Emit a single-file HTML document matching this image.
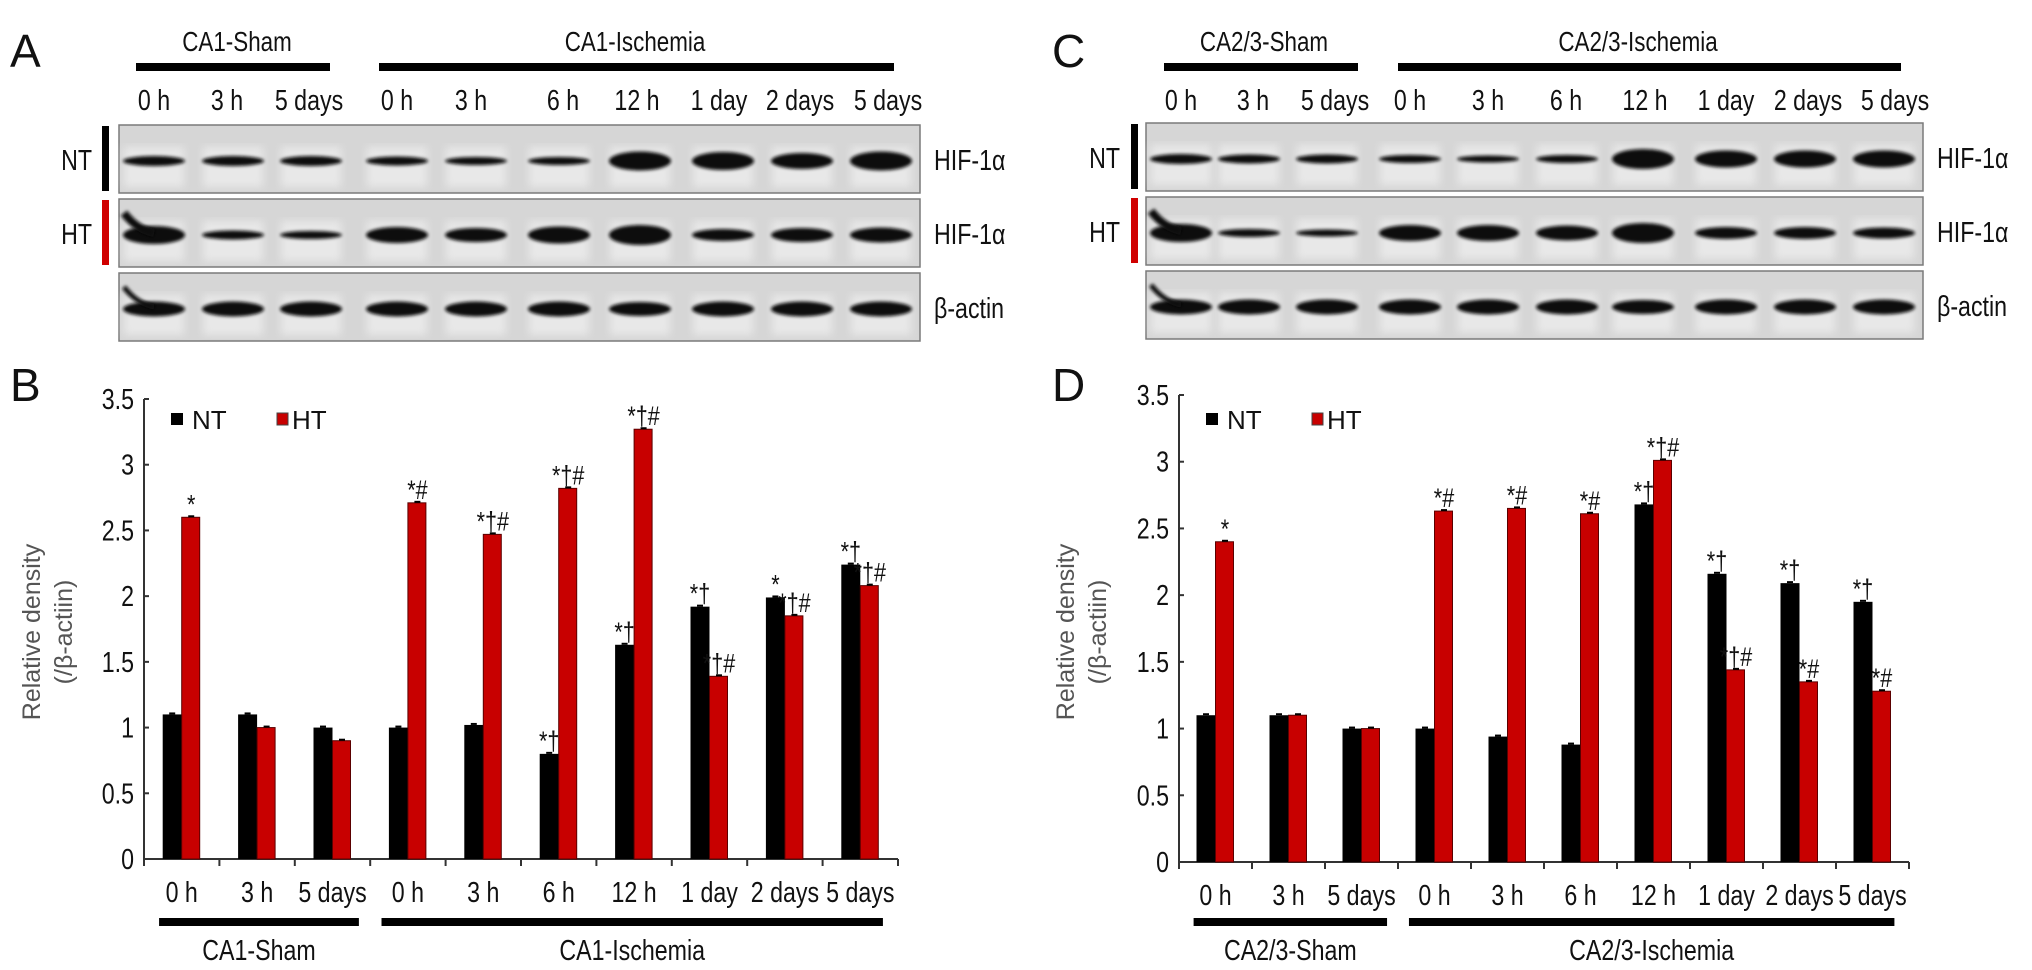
<!DOCTYPE html>
<html><head><meta charset="utf-8">
<style>
html,body{margin:0;padding:0;background:#fff;}
svg{display:block;}
.lbl{font-family:"Liberation Sans",sans-serif;fill:#111;}
.reg{font-family:"Liberation Sans",sans-serif;}
</style></head>
<body>
<svg id="fig" width="2032" height="970" viewBox="0 0 2032 970" xmlns="http://www.w3.org/2000/svg">
<defs>
<filter id="blur" x="-20%" y="-50%" width="140%" height="200%"><feGaussianBlur stdDeviation="1.6"/></filter>
<filter id="blurbg"><feGaussianBlur stdDeviation="4"/></filter>
</defs>
<g id="root"></g>
</svg>
<script>
// ---- chart data ----
const categories = ["0 h","3 h","5 days","0 h","3 h","6 h","12 h","1 day","2 days","5 days"];
const yTicks = [0,0.5,1,1.5,2,2.5,3,3.5];
const yTickLabels = ["0","0.5","1","1.5","2","2.5","3","3.5"];
const ca1NT = [1.1,1.1,1.0,1.0,1.02,0.8,1.63,1.92,1.99,2.24];
const ca1HT = [2.6,1.0,0.9,2.71,2.47,2.82,3.27,1.39,1.85,2.08];
const ca1NTsig = ["","","","","","*†","*†","*†","*","*†"];
const ca1HTsig = ["*","","","*#","*†#","*†#","*†#","*†#","*†#","*†#"];
const ca23NT = [1.1,1.1,1.0,1.0,0.94,0.88,2.68,2.16,2.09,1.95];
const ca23HT = [2.4,1.1,1.0,2.63,2.65,2.61,3.01,1.44,1.35,1.28];
const ca23NTsig = ["","","","","","","*†","*†","*†","*†"];
const ca23HTsig = ["*","","","*#","*#","*#","*†#","*†#","*#","*#"];
// band intensities (thickness) for blots
const bandNT_A = [8,8,8,7,6,6,17,16,14,17];
const bandHT_A = [16,7,6,14,12,15,18,10,12,13];
const bandNT_C = [8,7,7,6,5,6,18,15,15,15];
const bandHT_C = [16,6,5,14,14,13,18,10,10,9];
const bandAct = [13,13,13,13,13,13,12,13,13,13];

const NS="http://www.w3.org/2000/svg";
const root=document.getElementById('root');
function mk(tag,attrs,parent,text){const e=document.createElementNS(NS,tag);for(const k in attrs)e.setAttribute(k,attrs[k]);if(text!==undefined)e.textContent=text;(parent||root).appendChild(e);return e;}
function ntext(x,y,size,anchor,parent,str,fill){
  return mk('text',{x:0,y:0,transform:`translate(${x},${y}) scale(0.8,1)`,'font-size':size,'text-anchor':anchor,class:'lbl',fill:fill||'#111'},parent,str);
}

function panelLetter(x,y,t){
  const e=mk('text',{x:x,y:y,'font-size':46,class:'reg',fill:'#111'},root,t);
  
  
}

function blotPanel(cfg){
  const g=mk('g',{});
  
  
  cfg.groups.forEach(gr=>{
    const t=ntext(gr.tx,51,28,'middle',g,gr.label);
    
    
    const r=mk('rect',{x:gr.x1,y:63,width:gr.x2-gr.x1,height:8,fill:'#000'},g);
    
    
  });
  cfg.laneLabelX.forEach((x,i)=>{
    const t=ntext(x,110,29,'middle',g,categories[i]);
    
    
  });
  const rows=[{y:cfg.rowY[0],bands:cfg.nt,label:'HIF-1α',side:'NT',col:'#000'},
              {y:cfg.rowY[1],bands:cfg.ht,label:'HIF-1α',side:'HT',col:'#d00000'},
              {y:cfg.rowY[2],bands:bandAct,label:'β-actin'}];
  rows.forEach((row,ri)=>{
    const b=mk('g',{},g);
    
    
    mk('rect',{x:cfg.x1,y:row.y,width:cfg.x2-cfg.x1,height:68,fill:'#d6d6d6',stroke:'#7a7a7a','stroke-width':1.5},b);
    cfg.bandX.forEach((bx,i)=>{
      mk('rect',{x:bx-30,y:row.y+22,width:60,height:40,fill:'#e8e8e8',filter:'url(#blurbg)'},b);
    });
    cfg.bandX.forEach((bx,i)=>{
      const h=row.bands[i];
      mk('ellipse',{cx:bx,cy:row.y+36,rx:31,ry:h/2+1,fill:'#111',filter:'url(#blur)'},b);
    });
    if(ri==1||ri==2){
      mk('path',{d:`M${cfg.bandX[0]-30},${row.y+14} Q${cfg.bandX[0]-18},${row.y+30} ${cfg.bandX[0]},${row.y+34}`,stroke:'#111','stroke-width':ri==1?8:5,fill:'none',filter:'url(#blur)'},b);
    }
    const t=ntext(cfg.x2+14,row.y+45,29,'start',g,row.label);
    
    
    if(row.side){
      const s=ntext(cfg.sideX,row.y+45,29,'end',g,row.side);
      
      
      const r=mk('rect',{x:cfg.barX,y:row.y+1,width:7,height:65,fill:row.col},g);
      
      
    }
  });
}

function barChart(cfg){
  const g=mk('g',{});
  
  
  const y=v=>cfg.y0-(v/3.5)*(cfg.y0-cfg.yTop);
  const gw=(cfg.xEnd-cfg.x0)/categories.length;
  const xc=i=>cfg.x0+gw*(i+0.5);
  const ax=mk('path',{d:`M${cfg.x0},${y(3.5)} L${cfg.x0},${cfg.y0} L${cfg.xEnd},${cfg.y0}`,stroke:'#333','stroke-width':2,fill:'none'},g);
  
  
  yTicks.forEach((v,i)=>{
    mk('line',{x1:cfg.x0,x2:cfg.x0+5,y1:y(v),y2:y(v),stroke:'#333','stroke-width':2},g);
    const t=ntext(cfg.x0-10,y(v)+10,29,'end',g,yTickLabels[i],'#222');
    
    
  });
  for(let i=0;i<=categories.length;i++){
    mk('line',{x1:cfg.x0+gw*i,x2:cfg.x0+gw*i,y1:cfg.y0,y2:cfg.y0+7,stroke:'#333','stroke-width':2},g);
  }
  const bw=19;
  categories.forEach((c,i)=>{
    const cx=xc(i);
    const nb=mk('rect',{x:cx-bw,y:y(cfg.nt[i]),width:bw,height:cfg.y0-y(cfg.nt[i]),fill:'#000'},g);
    
    
    const hb=mk('rect',{x:cx,y:y(cfg.ht[i]),width:bw-1,height:cfg.y0-y(cfg.ht[i]),fill:'#c80000',stroke:'#5a0000','stroke-width':1},g);
    
    
    mk('line',{x1:cx-bw/2-3,x2:cx-bw/2+3,y1:y(cfg.nt[i])-1,y2:y(cfg.nt[i])-1,stroke:'#000','stroke-width':2},g);
    mk('line',{x1:cx+bw/2-3,x2:cx+bw/2+3,y1:y(cfg.ht[i])-1,y2:y(cfg.ht[i])-1,stroke:'#000','stroke-width':2},g);
    if(cfg.ntSig[i]){
      const t=ntext(cx-bw/2,y(cfg.nt[i])-4,27,'middle',g,cfg.ntSig[i],'#555');
      
      
    }
    if(cfg.htSig[i]){
      const t=ntext(cx+bw/2,y(cfg.ht[i])-4,27,'middle',g,cfg.htSig[i],'#555');
      
      
    }
    const l=ntext(cx,cfg.y0+43,29,'middle',g,c);
    
    
  });
  const sx1=cfg.x0+gw*0.2, sx2=cfg.x0+gw*2.85, ix1=cfg.x0+gw*3.15, ix2=cfg.x0+gw*9.8;
  [[sx1,sx2,cfg.groupLabels[0]],[ix1,ix2,cfg.groupLabels[1]]].forEach(a=>{
    const r=mk('rect',{x:a[0],y:918,width:a[1]-a[0],height:8,fill:'#000'},g);
    
    
    const t=ntext((a[0]+a[1])/2,960,29,'middle',g,a[2]);
    
    
  });
  const tt=mk('text',{transform:`translate(${cfg.titleX},632) rotate(-90)`,'font-size':25,'text-anchor':'middle',class:'reg',fill:'#555'},g);
  
  
  mk('tspan',{x:0,y:0},tt,'Relative density');
  mk('tspan',{x:0,y:32},tt,'(/β-actiin)');
  const lg=mk('g',{},g);
  
  
  mk('rect',{x:cfg.x0+27,y:413,width:12,height:12,fill:'#000'},lg);
  mk('text',{x:cfg.x0+48,y:429,'font-size':26,class:'reg',fill:'#111'},lg,'NT');
  mk('rect',{x:cfg.x0+133,y:413,width:11,height:12,fill:'#c80000',stroke:'#444','stroke-width':1},lg);
  mk('text',{x:cfg.x0+148,y:429,'font-size':26,class:'reg',fill:'#111'},lg,'HT');
}

panelLetter(10,67,'A');
panelLetter(10,401,'B');
panelLetter(1052,67,'C');
panelLetter(1052,401,'D');

blotPanel({name:'blot-panel-a',x1:119,x2:920,rowY:[125,199,273],sideX:92,barX:102,
  groups:[{x1:136,x2:330,tx:237,label:'CA1-Sham'},{x1:379,x2:894,tx:635,label:'CA1-Ischemia'}],
  laneLabelX:[154,227,309,397,471,563,637,719,800,888],
  bandX:[154,233,311,397,476,559,640,723,802,881],nt:bandNT_A,ht:bandHT_A});
blotPanel({name:'blot-panel-c',x1:1146,x2:1923,rowY:[123,197,271],sideX:1120,barX:1131,
  groups:[{x1:1164,x2:1358,tx:1264,label:'CA2/3-Sham'},{x1:1398,x2:1901,tx:1638,label:'CA2/3-Ischemia'}],
  laneLabelX:[1181,1253,1335,1410,1488,1566,1645,1726,1808,1895],
  bandX:[1181,1249,1327,1410,1488,1567,1643,1726,1805,1884],nt:bandNT_C,ht:bandHT_C});

barChart({name:'chart-b',x0:144,xEnd:898,y0:859,yTop:399,nt:ca1NT,ht:ca1HT,ntSig:ca1NTsig,htSig:ca1HTsig,titleX:40,groupLabels:['CA1-Sham','CA1-Ischemia']});
barChart({name:'chart-d',x0:1179,xEnd:1909,y0:862,yTop:395,nt:ca23NT,ht:ca23HT,ntSig:ca23NTsig,htSig:ca23HTsig,titleX:1074,groupLabels:['CA2/3-Sham','CA2/3-Ischemia']});
</script>
</body></html>
